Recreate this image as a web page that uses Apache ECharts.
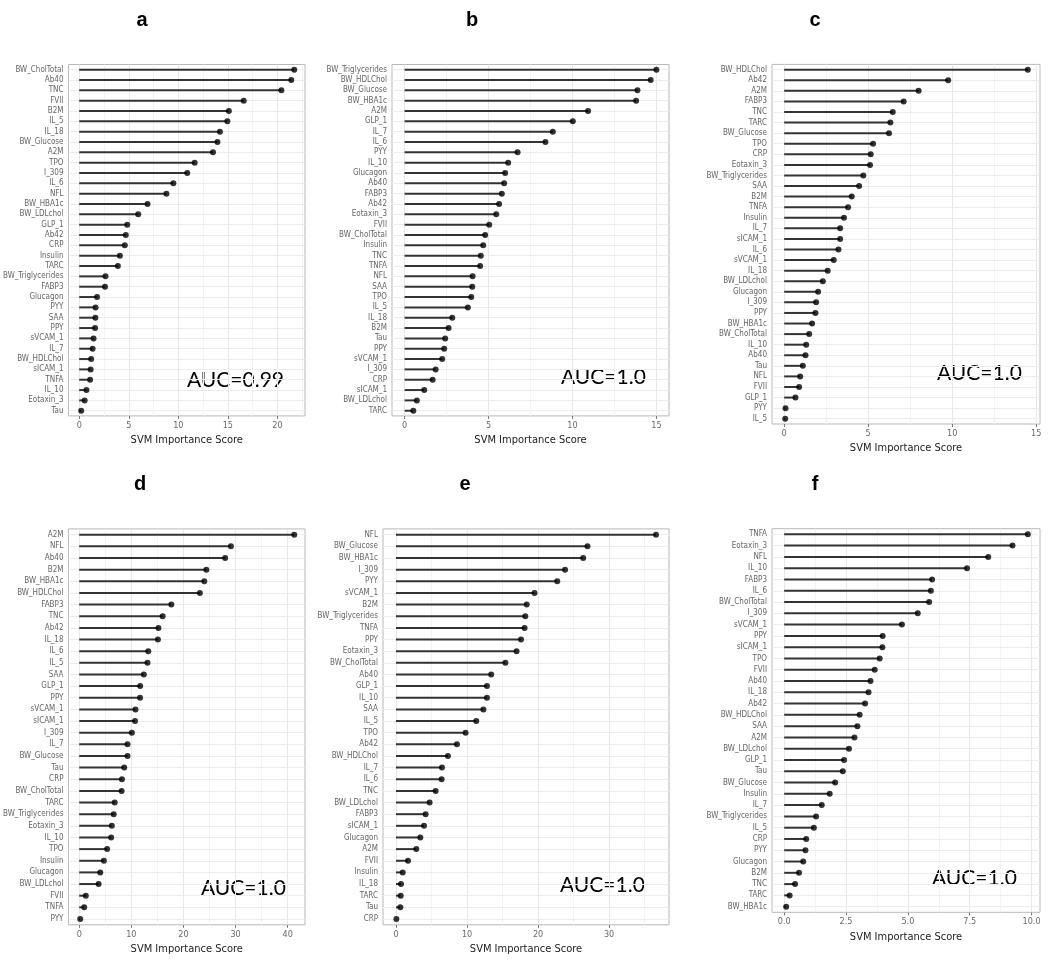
<!DOCTYPE html>
<html><head><meta charset="utf-8">
<script src="https://cdn.jsdelivr.net/npm/echarts@6/dist/echarts.min.js"></script>
<style>html,body{margin:0;padding:0;background:#fff}#c{width:1050px;height:966px}</style>
</head><body><div id="c"></div>
<script>
const aCats = ['BW_CholTotal','Ab40','TNC','FVII','B2M','IL_5','IL_18','BW_Glucose','A2M','TPO','I_309','IL_6','NFL','BW_HBA1c','BW_LDLchol','GLP_1','Ab42','CRP','Insulin','TARC','BW_Triglycerides','FABP3','Glucagon','PYY','SAA','PPY','sVCAM_1','IL_7','BW_HDLChol','sICAM_1','TNFA','IL_10','Eotaxin_3','Tau'];
const aVals = [21.7,21.4,20.4,16.6,15.1,14.95,14.2,13.95,13.5,11.65,10.9,9.5,8.8,6.9,5.95,4.85,4.7,4.6,4.1,3.9,2.65,2.6,1.8,1.65,1.63,1.6,1.45,1.35,1.2,1.15,1.1,0.73,0.55,0.2];

const bCats = ['BW_Triglycerides','BW_HDLChol','BW_Glucose','BW_HBA1c','A2M','GLP_1','IL_7','IL_6','PYY','IL_10','Glucagon','Ab40','FABP3','Ab42','Eotaxin_3','FVII','BW_CholTotal','Insulin','TNC','TNFA','NFL','SAA','TPO','IL_5','IL_18','B2M','Tau','PPY','sVCAM_1','I_309','CRP','sICAM_1','BW_LDLchol','TARC'];
const bVals = [15.0,14.66,13.87,13.79,10.93,10.02,8.83,8.39,6.73,6.17,5.99,5.93,5.79,5.63,5.46,5.04,4.80,4.68,4.54,4.50,4.05,4.03,3.97,3.77,2.84,2.62,2.42,2.36,2.24,1.85,1.67,1.17,0.73,0.52];

const cCats = ['BW_HDLChol','Ab42','A2M','FABP3','TNC','TARC','BW_Glucose','TPO','CRP','Eotaxin_3','BW_Triglycerides','SAA','B2M','TNFA','Insulin','IL_7','sICAM_1','IL_6','sVCAM_1','IL_18','BW_LDLchol','Glucagon','I_309','PPY','BW_HBA1c','BW_CholTotal','IL_10','Ab40','Tau','NFL','FVII','GLP_1','PYY','IL_5'];
const cVals = [14.5,9.76,8.0,7.11,6.46,6.32,6.24,5.29,5.15,5.11,4.71,4.46,4.02,3.80,3.56,3.33,3.33,3.23,2.95,2.59,2.30,2.02,1.90,1.86,1.66,1.49,1.31,1.27,1.11,0.95,0.89,0.67,0.08,0.06];

const dCats = ['A2M','NFL','Ab40','B2M','BW_HBA1c','BW_HDLChol','FABP3','TNC','Ab42','IL_18','IL_6','IL_5','SAA','GLP_1','PPY','sVCAM_1','sICAM_1','I_309','IL_7','BW_Glucose','Tau','CRP','BW_CholTotal','TARC','BW_Triglycerides','Eotaxin_3','IL_10','TPO','Insulin','Glucagon','BW_LDLchol','FVII','TNFA','PYY'];
const dVals = [41.26,29.1,28.0,24.4,24.0,23.15,17.67,16.0,15.2,15.1,13.25,13.1,12.4,11.7,11.67,10.8,10.7,10.1,9.27,9.27,8.64,8.2,8.14,6.81,6.62,6.25,6.12,5.36,4.73,4.04,3.72,1.26,0.95,0.19];

const eCats = ['NFL','BW_Glucose','BW_HBA1c','I_309','PYY','sVCAM_1','B2M','BW_Triglycerides','TNFA','PPY','Eotaxin_3','BW_CholTotal','Ab40','GLP_1','IL_10','SAA','IL_5','TPO','Ab42','BW_HDLChol','IL_7','IL_6','TNC','BW_LDLchol','FABP3','sICAM_1','Glucagon','A2M','FVII','Insulin','IL_18','TARC','Tau','CRP'];
const eVals = [36.6,26.96,26.35,23.8,22.7,19.5,18.4,18.2,18.1,17.6,16.97,15.4,13.4,12.8,12.8,12.3,11.3,9.8,8.58,7.31,6.47,6.42,5.58,4.73,4.17,3.94,3.42,2.86,1.69,0.94,0.70,0.66,0.61,0.05];

const fCats = ['TNFA','Eotaxin_3','NFL','IL_10','FABP3','IL_6','BW_CholTotal','I_309','sVCAM_1','PPY','sICAM_1','TPO','FVII','Ab40','IL_18','Ab42','BW_HDLChol','SAA','A2M','BW_LDLchol','GLP_1','Tau','BW_Glucose','Insulin','IL_7','BW_Triglycerides','IL_5','CRP','PYY','Glucagon','B2M','TNC','TARC','BW_HBA1c'];
const fVals = [9.85,9.23,8.25,7.39,5.98,5.93,5.86,5.40,4.76,3.98,3.97,3.86,3.66,3.49,3.41,3.27,3.05,2.96,2.84,2.62,2.42,2.37,2.06,1.84,1.52,1.29,1.20,0.89,0.86,0.77,0.60,0.44,0.22,0.08];

const panelLetters = ['a','b','c','d','e','f'];
const aucLabels = ['AUC=0.99','AUC=1.0','AUC=1.0','AUC=1.0','AUC=1.0','AUC=1.0'];
const aTicks = [0,5,10,15,20];
const bTicks = [0,5,10,15];
const cTicks = [0,5,10,15];
const dTicks = [0,10,20,30,40];
const eTicks = [0,10,20,30];
const fTicks = [0,2.5,5,7.5,10];
const axisTitle = 'SVM Importance Score';

const panels = [
  {cats:aCats, vals:aVals, ticks:aTicks},
  {cats:bCats, vals:bVals, ticks:bTicks},
  {cats:cCats, vals:cVals, ticks:cTicks},
  {cats:dCats, vals:dVals, ticks:dTicks},
  {cats:eCats, vals:eVals, ticks:eTicks},
  {cats:fCats, vals:fVals, ticks:fTicks}
];

// layout (pixels)
const layout = [
  {left:65,  width:240, top:64.5, height:351.4, letter:[142,20], auc:[187,380]},
  {left:392, width:277, top:64.5, height:351.4, letter:[472,20], auc:[561,377]},
  {left:772, width:268, top:64.4, height:359.6, letter:[815,20], auc:[937,373]},
  {left:65,  width:240, top:528.9, height:395.9, letter:[140,484], auc:[201,888]},
  {left:383, width:286, top:528.9, height:395.9, letter:[465,484], auc:[560,885]},
  {left:772, width:268, top:528.7, height:383.6, letter:[815,484], auc:[932,878]}
];

const narrow = "'DejaVu Sans Condensed','Liberation Sans Narrow',sans-serif";
const grids = [], xAxes = [], yAxes = [], series = [], graphics = [];

panels.forEach((p, i) => {
  const L = layout[i];
  const mx = Math.max(...p.vals);
  const xmin = -0.05 * mx, xmax = 1.05 * mx;
  const ticks = p.ticks;
  const step = ticks[1] - ticks[0];
  const fmt = v => step < 5 ? Number(v).toFixed(1) : String(v);
  grids.push({left:L.left, top:L.top, width:L.width, height:L.height, show:true,
    borderColor:'#b8b8b8', borderWidth:1, backgroundColor:'transparent', containLabel:false});
  xAxes.push({type:'value', gridIndex:i, min:xmin, max:xmax,
    axisLine:{show:false},
    axisTick:{show:true, length:3, lineStyle:{color:'#777'}, customValues:ticks},
    splitLine:{show:false},
    axisLabel:{fontSize:9, color:'#6a6a6a', fontFamily:narrow, margin:5, customValues:ticks, formatter:fmt},
    name: axisTitle, nameLocation:'middle', nameGap:19,
    nameTextStyle:{fontSize:11, color:'#222', fontFamily:narrow}
  });
  yAxes.push({type:'category', gridIndex:i, data:p.cats, inverse:true,
    axisLine:{show:false},
    axisTick:{show:true, alignWithLabel:true, length:3, lineStyle:{color:'#777'}},
    splitLine:{show:false},
    axisLabel:{fontSize:8, color:'#666', fontFamily:narrow, margin:5, interval:0}
  });
  const vlines = [];
  ticks.forEach(t => vlines.push({xAxis:t, lineStyle:{color:'#e8e8e8', width:1}}));
  for (let m = step/2; m < xmax; m += step) vlines.push({xAxis:m, lineStyle:{color:'#f3f3f3', width:1}});
  // gridlines layer
  series.push({type:'scatter', xAxisIndex:i, yAxisIndex:i, symbolSize:0, z:1, silent:true,
    data:p.vals.map((v,j)=>[v,j]),
    markLine:{silent:true, z:1, symbol:['none','none'], animation:false, label:{show:false},
      lineStyle:{color:'#ececec', width:1, type:'solid'},
      emphasis:{disabled:true},
      data: vlines.concat(p.cats.map(c=>({yAxis:c})))}
  });
  series.push({type:'bar', xAxisIndex:i, yAxisIndex:i, data:p.vals, barWidth:2,
    itemStyle:{color:'#333'}, z:3, silent:true, animation:false});
  series.push({type:'scatter', xAxisIndex:i, yAxisIndex:i, data:p.vals.map((v,j)=>[v,j]),
    symbol:'circle', symbolSize:6, itemStyle:{color:'#000'}, z:4, silent:true, animation:false});
  graphics.push({type:'text', x:L.letter[0], y:L.letter[1],
    style:{text:panelLetters[i], font:"bold 20px 'Liberation Sans', Arial, sans-serif", fill:'#000', align:'center', verticalAlign:'middle'}});
  graphics.push({type:'text', x:L.auc[0], y:L.auc[1],
    style:{text:aucLabels[i], font:"21px Lato, 'Noto Sans', sans-serif", fill:'#000', align:'left', verticalAlign:'middle'}});
});

const chart = echarts.init(document.getElementById('c'), null, {renderer:'canvas'});
chart.setOption({backgroundColor:'#fff', animation:false, grid:grids, xAxis:xAxes, yAxis:yAxes, series:series, graphic:graphics});
</script></body></html>
